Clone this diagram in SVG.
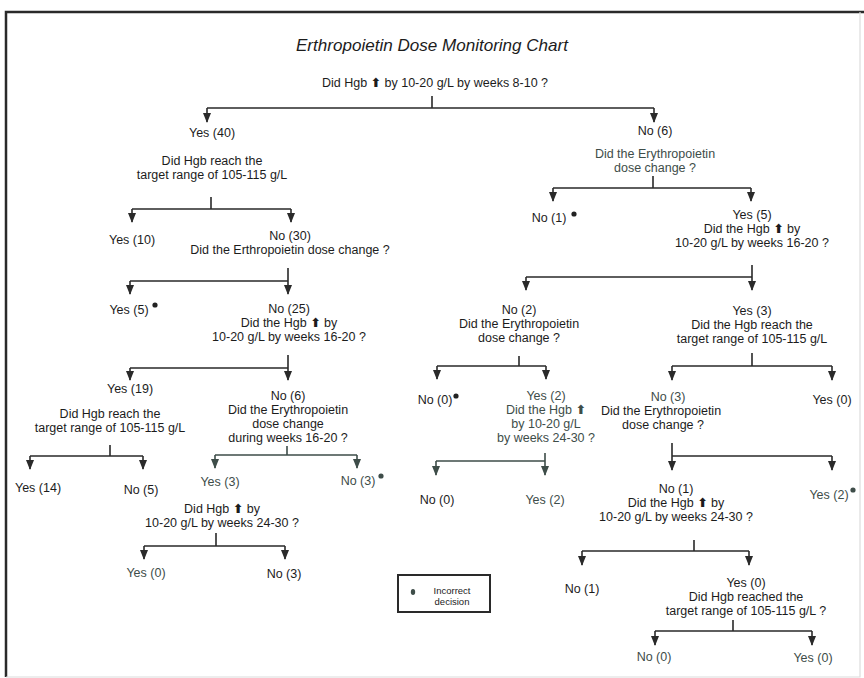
<svg xmlns="http://www.w3.org/2000/svg" width="864" height="678" viewBox="0 0 864 678">
<defs>
<marker id="ah" markerWidth="8" markerHeight="10" refX="4" refY="9" markerUnits="userSpaceOnUse" viewBox="0 0 8 10">
<path d="M0,0 L8,0 L4,10 Z" fill="#2a2a2a"/>
</marker>
<marker id="ahg" markerWidth="8" markerHeight="10" refX="4" refY="9" markerUnits="userSpaceOnUse" viewBox="0 0 8 10">
<path d="M0,0 L8,0 L4,10 Z" fill="#3e4d49"/>
</marker>
<style>
text{font-family:"Liberation Sans",Arial,sans-serif;font-size:12.5px;fill:#1c1c1c;text-anchor:middle}
.g{fill:#3e4d49}
.up{font-family:"DejaVu Sans",sans-serif;font-size:12.5px;font-weight:bold}
.title{font-style:italic;font-size:17px}
.leg{font-size:9.5px}
.c path{fill:none;stroke:#2a2a2a;stroke-width:1.6}
.c path.a{marker-end:url(#ah)}
.c path.ga{stroke:#3e4d49;marker-end:url(#ahg)}
.c path.gl{stroke:#3e4d49}
.dot{fill:#222}
.dotg{fill:#3e4d49}
</style>
</defs>
<rect x="0" y="0" width="864" height="678" fill="#fff"/>
<path d="M6,677 V12 H864" fill="none" stroke="#2a2a2a" stroke-width="2.5"/>
<path d="M860,12 V677 H6" fill="none" stroke="#dcdcdc" stroke-width="1.2"/>

<g id="title"><text class="title" x="432" y="51" textLength="272" lengthAdjust="spacingAndGlyphs">Erthropoietin Dose Monitoring Chart</text></g>

<g class="c" id="connectors">
<path d="M432,96 V108 M207,108 H654"/>
<path class="a" d="M207,108 V122"/><path class="a" d="M654,108 V122"/>
<path d="M211,197 V209 M132,209 H291"/>
<path class="a" d="M132,209 V222"/><path class="a" d="M291,209 V222"/>
<path d="M288,268 V281 M130,281 H288"/>
<path class="a" d="M130,281 V294"/><path class="a" d="M288,281 V294"/>
<path d="M288,355 V368 M130,368 H288"/>
<path class="a" d="M130,368 V380"/><path class="a" d="M288,368 V380"/>
<path d="M110,445 V456 M30,456 H143"/>
<path class="a" d="M30,456 V469"/><path class="a" d="M143,456 V469"/>
<path class="gl" d="M287,446 V455 M215,455 H357"/>
<path class="ga" d="M215,455 V468"/><path class="ga" d="M357,455 V468"/>
<path d="M216,533 V546 M144,546 H285"/>
<path class="a" d="M144,546 V559"/><path class="a" d="M285,546 V559"/>
<path d="M653,176 V188 M553,188 H751"/>
<path class="a" d="M553,188 V201"/><path class="a" d="M751,188 V201"/>
<path d="M752,265 V277 M526,277 H752"/>
<path class="a" d="M526,277 V290"/><path class="a" d="M752,277 V290"/>
<path d="M519,356 V366 M437,366 H546"/>
<path class="a" d="M437,366 V379"/><path class="a" d="M546,366 V379"/>
<path class="gl" d="M545,453 V461 M436,461 H545"/>
<path class="ga" d="M436,461 V475"/><path class="ga" d="M545,461 V475"/>
<path d="M752,353 V366 M672,366 H832"/>
<path class="a" d="M672,366 V380"/><path class="a" d="M832,366 V380"/>
<path d="M672,443 V456 M672,456 H832"/>
<path class="a" d="M672,456 V470"/><path class="a" d="M832,456 V470"/>
<path d="M694,540 V551 M582,551 H749"/>
<path class="a" d="M582,551 V565"/><path class="a" d="M749,551 V565"/>
<path d="M733,620 V631 M655,631 H812"/>
<path class="a" d="M655,631 V645"/><path class="a" d="M812,631 V645"/>
</g>

<g id="q-root"><text x="435" y="87">Did Hgb <tspan class="up">⬆</tspan> by 10-20 g/L by weeks 8-10 ?</text></g>

<g id="yes40"><text x="212" y="137">Yes (40)</text>
<text x="212" y="165">Did Hgb reach the</text><text x="212" y="179">target range of 105-115 g/L</text></g>
<g id="yes10"><text x="132" y="244">Yes (10)</text></g>
<g id="no30"><text x="290" y="240">No (30)</text><text x="290" y="254">Did the Erthropoietin dose change ?</text></g>
<g id="yes5a"><text x="129" y="314">Yes (5)</text><circle class="dot" cx="155" cy="305" r="2.6"/></g>
<g id="no25"><text x="289" y="313">No (25)</text><text x="289" y="327">Did the Hgb <tspan class="up">⬆</tspan> by</text><text x="289" y="341">10-20 g/L by weeks 16-20 ?</text></g>
<g id="yes19"><text x="130" y="393">Yes (19)</text>
<text x="110" y="418">Did Hgb reach the</text><text x="110" y="432">target range of 105-115 g/L</text></g>
<g id="no6a"><text x="288" y="400">No (6)</text><text x="288" y="414">Did the Erythropoietin</text><text x="288" y="428">dose change</text><text x="288" y="442">during weeks 16-20 ?</text></g>
<g id="yes14"><text x="38" y="492">Yes (14)</text></g>
<g id="no5"><text x="141" y="494">No (5)</text></g>
<g id="yes3a"><text class="g" x="220" y="486">Yes (3)</text>
<text x="222" y="513">Did Hgb <tspan class="up">⬆</tspan> by</text><text x="222" y="527">10-20 g/L by weeks 24-30 ?</text></g>
<g id="no3a"><text class="g" x="358" y="485">No (3)</text><circle class="dotg" cx="381" cy="476" r="2.6"/></g>
<g id="yes0a"><text class="g" x="146" y="577">Yes (0)</text></g>
<g id="no3b"><text x="284" y="578">No (3)</text></g>

<g id="no6b"><text x="655" y="135">No (6)</text>
<text class="g" x="655" y="158">Did the Erythropoietin</text><text class="g" x="655" y="172">dose change ?</text></g>
<g id="no1a"><text x="549" y="222">No (1)</text><circle class="dot" cx="574" cy="214" r="2.6"/></g>
<g id="yes5b"><text x="752" y="219">Yes (5)</text><text x="752" y="233">Did the Hgb <tspan class="up">⬆</tspan> by</text><text x="752" y="247">10-20 g/L by weeks 16-20 ?</text></g>
<g id="no2"><text x="519" y="314">No (2)</text><text x="519" y="328">Did the Erythropoietin</text><text x="519" y="342">dose change ?</text></g>
<g id="yes3b"><text x="752" y="315">Yes (3)</text><text x="752" y="329">Did the Hgb reach the</text><text x="752" y="343">target range of 105-115 g/L</text></g>
<g id="no0a"><text x="435" y="404">No (0)</text><circle class="dot" cx="456" cy="396" r="2.6"/></g>
<g id="yes2a"><text class="g" x="546" y="400">Yes (2)</text><text class="g" x="546" y="414">Did the Hgb <tspan class="up">⬆</tspan></text><text class="g" x="546" y="428">by 10-20 g/L</text><text class="g" x="546" y="442">by weeks 24-30 ?</text></g>
<g id="no0b"><text x="437" y="504">No (0)</text></g>
<g id="yes2b"><text class="g" x="545" y="504">Yes (2)</text></g>
<g id="no3c"><text class="g" x="668" y="401">No (3)</text><text x="661" y="415">Did the Erythropoietin</text><text x="663" y="429">dose change ?</text></g>
<g id="yes0b"><text x="832" y="404">Yes (0)</text></g>
<g id="no1b"><text x="676" y="493">No (1)</text><text x="676" y="507">Did the Hgb <tspan class="up">⬆</tspan> by</text><text x="676" y="521">10-20 g/L by weeks 24-30 ?</text></g>
<g id="yes2c"><text class="g" x="829" y="499">Yes (2)</text><circle class="dotg" cx="853" cy="490" r="2.6"/></g>
<g id="no1c"><text x="582" y="593">No (1)</text></g>
<g id="yes0c"><text x="746" y="587">Yes (0)</text><text x="746" y="601">Did Hgb reached the</text><text x="746" y="615">target range of 105-115 g/L ?</text></g>
<g id="no0c"><text class="g" x="654" y="661">No (0)</text></g>
<g id="yes0d"><text class="g" x="813" y="662">Yes (0)</text></g>

<g id="legend">
<rect x="398" y="575" width="92" height="37" fill="none" stroke="#2a2a2a" stroke-width="2"/>
<ellipse cx="413" cy="592" rx="2.2" ry="3" class="dotg"/>
<text class="leg" x="452" y="594">Incorrect</text><text class="leg" x="452" y="605">decision</text>
</g>
</svg>
